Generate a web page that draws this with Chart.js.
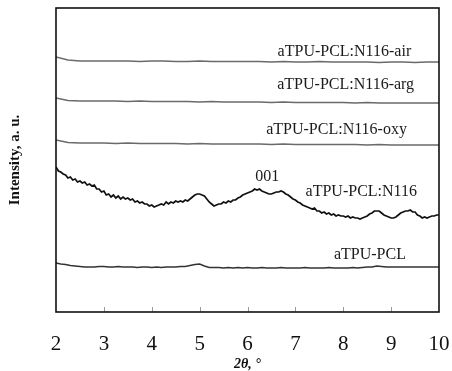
<!DOCTYPE html>
<html>
<head>
<meta charset="utf-8">
<script src="https://cdn.jsdelivr.net/npm/chart.js@4.4.0/dist/chart.umd.min.js"></script>
<style>
  html, body { margin: 0; padding: 0; background: #fff; }
  #wrap { width: 452px; height: 371px; }
</style>
</head>
<body>
<div id="wrap"><canvas id="xrd"></canvas></div>
<script>
// XRD patterns, 2θ from 2 to 10 degrees (intensity in arbitrary, offset units)
const xTicks = [2, 3, 4, 5, 6, 7, 8, 9, 10];

// the film traces are sampled every 0.25°
const airY = [255, 252, 251, 251, 251, 251, 251, 250.5, 251, 251, 250.5, 250.5, 251, 250.5, 250.5, 250.5, 250.5,
  250.5, 250, 250.5, 250, 250, 250.5, 250, 250, 250, 250, 249.5, 250, 250, 249.5, 250, 250];
const argY = [214, 211.5, 211, 211, 211, 211, 210.5, 211, 210.5, 210.5, 210.5, 210.5, 210, 210.5, 210, 210, 210,
  210, 209.5, 210, 209.5, 209.5, 209.5, 209.5, 209.5, 209, 209.5, 209, 209, 209, 209, 209, 209];
const oxyY = [172, 169.5, 169, 169, 169, 168.5, 169, 168.5, 168.5, 168.5, 168.5, 168, 168.5, 168, 168, 168, 168,
  168, 167.5, 168, 167.5, 167.5, 167.5, 167.5, 167.5, 167.5, 167, 167.5, 167, 167, 167, 167, 167];

// neat aTPU-PCL, every 0.1°
const pclY = [49, 48, 47.5, 46.5, 46, 45.5, 45, 45, 45, 45.5, 45.5, 45, 45, 45.5, 45, 45, 45, 44.5, 45, 45,
  44.5, 45, 44.5, 45, 45, 45, 45.5, 45.5, 46.5, 47.5, 48, 46, 44.5, 44.5, 44.5, 44, 44.5, 44, 44.5, 44,
  44.5, 44, 44, 44.5, 44, 44, 44, 44.5, 44, 44, 44, 44, 44.5, 44, 44, 44, 44, 44.5, 44, 44,
  44, 44, 44.5, 44, 44.5, 45, 45, 46, 45.5, 45, 45, 45, 45, 45, 45, 45, 45, 45, 45, 45, 45];

// aTPU-PCL:N116 nanocomposite, every 0.05°
const n116Y = [145, 141, 140, 138, 137, 134, 135, 132, 133, 130, 131, 129, 130, 127, 128, 126, 127, 123, 123, 120,
  121, 117, 118, 115, 117, 114, 116, 113, 115, 113, 114, 112, 113, 110, 111, 109, 110, 108, 108, 106,
  107, 105, 106, 107, 108, 107, 110, 108, 110, 109, 111, 110, 111, 110, 112, 111, 113, 115, 117, 118,
  118, 117, 116, 113, 110, 108, 106, 107, 108, 108, 110, 109, 111, 110, 112, 112, 114, 115, 117, 118,
  119, 120, 121, 123, 122, 123, 121, 120, 119, 118, 118, 119, 120, 120, 121, 120, 118, 117, 115, 113,
  112, 110, 109, 107, 106, 105, 104, 103, 104, 101, 101, 99, 100, 98, 99, 97, 98, 96, 97, 96,
  96, 95, 96, 94, 95, 94, 94, 93, 94, 95, 96, 98, 99, 101, 101, 101, 99, 97, 96, 95,
  94, 94, 95, 97, 99, 100, 101, 101, 102, 100, 100, 97, 96, 94, 95, 94, 95, 96, 96, 97, 97];

// curve captions: text, 2θ anchor, intensity anchor, alignment
const captions = [
  ['aTPU-PCL:N116-air', 9.42, 260, 'right'],
  ['aTPU-PCL:N116-arg', 9.48, 227, 'right'],
  ['aTPU-PCL:N116-oxy', 9.33, 182, 'right'],
  ['001', 6.41, 135, 'center'],
  ['aTPU-PCL:N116', 9.54, 120, 'right'],
  ['aTPU-PCL', 9.31, 57, 'right']
];

function toPoints(ys, step) {
  return ys.map((y, i) => ({ x: +(2 + i * step).toFixed(2), y: y }));
}

const serif = "'Liberation Serif', 'Times New Roman', serif";

// black frame around the plot plus short inward ticks on the 2θ axis
const framePlugin = {
  id: 'frame',
  afterDraw(chart) {
    const { ctx, chartArea: a, scales } = chart;
    ctx.save();
    ctx.strokeStyle = '#999';
    ctx.lineWidth = 1;
    xTicks.slice(1, -1).forEach(v => {
      const px = Math.round(scales.x.getPixelForValue(v)) + 0.5;
      ctx.beginPath();
      ctx.moveTo(px, a.bottom);
      ctx.lineTo(px, a.bottom - 5);
      ctx.stroke();
    });
    ctx.strokeStyle = '#111';
    ctx.lineWidth = 1.6;
    ctx.strokeRect(a.left, a.top, a.right - a.left, a.bottom - a.top);
    ctx.restore();
  }
};

const captionPlugin = {
  id: 'captions',
  afterDatasetsDraw(chart) {
    const { ctx, scales } = chart;
    ctx.save();
    ctx.font = '16px ' + serif;
    ctx.fillStyle = '#1a1a1a';
    ctx.textBaseline = 'middle';
    captions.forEach(([txt, x, y, align]) => {
      ctx.textAlign = align;
      ctx.fillText(txt, scales.x.getPixelForValue(x), scales.y.getPixelForValue(y));
    });
    ctx.restore();
  }
};

const line = (data, color, width) => ({
  data: data,
  borderColor: color,
  borderWidth: width,
  pointRadius: 0,
  tension: 0,
  fill: false
});

new Chart(document.getElementById('xrd'), {
  type: 'line',
  data: {
    datasets: [
      line(toPoints(airY, 0.25), '#6a6a6a', 1.3),
      line(toPoints(argY, 0.25), '#6a6a6a', 1.3),
      line(toPoints(oxyY, 0.25), '#6a6a6a', 1.3),
      line(toPoints(n116Y, 0.05), '#111', 1.7),
      line(toPoints(pclY, 0.1), '#333', 1.5)
    ]
  },
  options: {
    responsive: true,
    maintainAspectRatio: false,
    animation: false,
    layout: { padding: { left: 6, right: 13, top: 8, bottom: 0 } },
    scales: {
      x: {
        type: 'linear',
        min: 2,
        max: 10,
        afterBuildTicks: s => { s.ticks = xTicks.map(v => ({ value: v })); },
        afterFit: s => {
          s.height = 59;
          s.paddingLeft = 0;
          s.paddingRight = 0;
        },
        grid: { display: false, drawTicks: false },
        border: { display: false },
        ticks: {
          padding: 20,
          color: '#111',
          font: { family: serif, size: 21 }
        },
        title: {
          display: true,
          text: '2θ, °',
          color: '#111',
          padding: 0,
          font: { family: serif, size: 14, weight: 'bold', style: 'italic', lineHeight: 1 }
        }
      },
      y: {
        min: 0,
        max: 304,
        afterFit: s => { s.width = 50; },
        grid: { display: false, drawTicks: false },
        border: { display: false },
        ticks: { display: false },
        title: {
          display: true,
          text: 'Intensity, a. u.',
          color: '#111',
          padding: 0,
          font: { family: serif, size: 15, weight: 'bold' }
        }
      }
    },
    plugins: {
      legend: { display: false },
      tooltip: { enabled: false }
    }
  },
  plugins: [framePlugin, captionPlugin]
});
</script>
</body>
</html>
